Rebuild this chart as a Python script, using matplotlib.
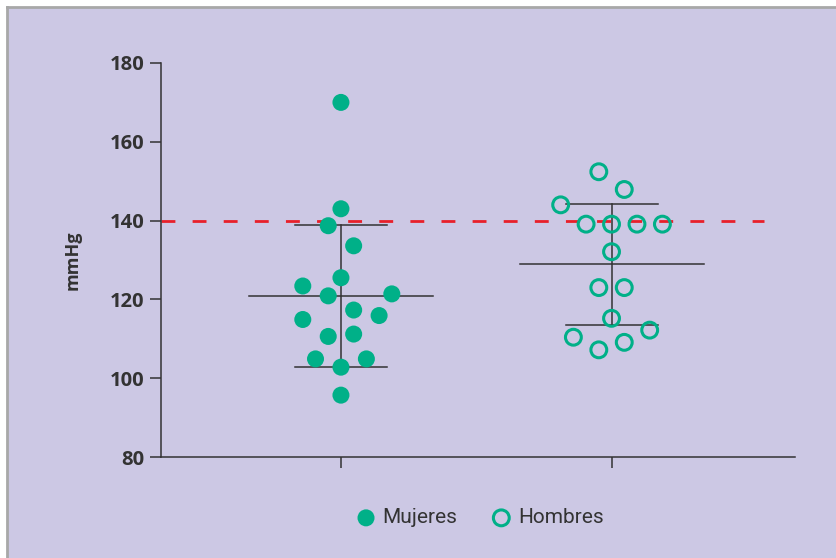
import matplotlib.pyplot as plt
from matplotlib.lines import Line2D
import numpy as np

# reading off the picture (mmHg)
groups = ["Mujeres", "Hombres"]
group_pos = [1, 2]

mujeres_vals = [170, 143, 138.7, 133.6, 125.5, 123.4, 120.9, 121.4, 117.3,
                115.9, 114.9, 111.2, 110.6, 104.9, 104.9, 102.8, 95.7]
mujeres_slot = [0, 0, -1, 1, 0, -3, -1, 4, 1, 3, -3, 1, -1, -2, 2, 0, 0]

hombres_vals = [152.4, 147.9, 144.0, 139.1, 139.1, 139.1, 139.1, 132.1, 123.0,
                123.0, 115.2, 112.2, 110.4, 109.1, 107.2]
hombres_slot = [-1, 1, -4, -2, 0, 2, 4, 0, -1, 1, 0, 3, -3, 1, -1]

threshold = 140
y_ticks = [80, 100, 120, 140, 160, 180]

bg = "#CCC8E4"
green = "#00B088"
red = "#E8202A"
dark = "#333333"

fig = plt.figure(figsize=(8.37, 5.58), dpi=100, facecolor="white")
fig.add_artist(plt.Rectangle((7 / 837, 0), 1, 1 - 7 / 558, transform=fig.transFigure,
                             facecolor=bg, edgecolor="none", zorder=-2))
fig.add_artist(Line2D([7 / 837, 7 / 837], [0, 1 - 7 / 558], transform=fig.transFigure,
                      color="#A8A8A8", lw=2))
fig.add_artist(Line2D([7 / 837, 1], [1 - 7 / 558, 1 - 7 / 558], transform=fig.transFigure,
                      color="#A8A8A8", lw=2))

ax = fig.add_axes([161 / 837, 1 - 457 / 558, (795 - 161) / 837, (457 - 63) / 558])
ax.set_facecolor("none")

step = 0.047
ax.scatter(group_pos[0] + np.array(mujeres_slot) * step, mujeres_vals, s=150,
           color=green, edgecolors="none", zorder=3, label=groups[0])
ax.scatter(group_pos[1] + np.array(hombres_slot) * step, hombres_vals, s=130,
           facecolors="none", edgecolors=green, linewidths=2.2, zorder=3, label=groups[1])

# media +/- desviación estándar
for pos, vals in zip(group_pos, [mujeres_vals, hombres_vals]):
    m = np.mean(vals)
    sd = np.std(vals, ddof=1)
    ax.plot([pos - 0.34, pos + 0.34], [m, m], color=dark, lw=1.1, zorder=2)
    ax.plot([pos - 0.17, pos + 0.17], [m + sd, m + sd], color=dark, lw=1.1, zorder=2)
    ax.plot([pos - 0.17, pos + 0.17], [m - sd, m - sd], color=dark, lw=1.1, zorder=2)
    ax.plot([pos, pos], [m - sd, m + sd], color=dark, lw=1.1, zorder=2)

ax.plot([0.335, 2.565], [threshold, threshold], color=red, lw=2, dashes=(5, 6.2), zorder=1)

ax.set_xlim(0.335, 2.678)
ax.set_ylim(80, 180)
ax.set_yticks(y_ticks)
ax.set_xticks(group_pos)
ax.set_xticklabels([])
for s in ["top", "right"]:
    ax.spines[s].set_visible(False)
for s in ["left", "bottom"]:
    ax.spines[s].set_color(dark)
    ax.spines[s].set_linewidth(1.1)
ax.tick_params(axis="both", direction="out", length=8, width=1.1, color=dark)
ax.tick_params(axis="y", pad=4, labelsize=14.5, labelcolor=dark)
for lab in ax.get_yticklabels():
    lab.set_fontfamily(["Open Sans", "DejaVu Sans"])
    lab.set_fontweight("bold")

ax.set_ylabel("mmHg", fontsize=13, fontweight="bold", color=dark,
              family=["Open Sans", "DejaVu Sans"], labelpad=20)

fig.legend(loc="center", bbox_to_anchor=(0.573, 0.072), ncol=2, frameon=False,
           handlelength=1.0, handletextpad=0.3, columnspacing=1.6, markerscale=1.0,
           prop={"family": ["Liberation Sans Narrow", "Roboto", "DejaVu Sans"], "size": 15},
           labelcolor=dark)

fig.savefig("out.png", dpi=100, facecolor="white")
